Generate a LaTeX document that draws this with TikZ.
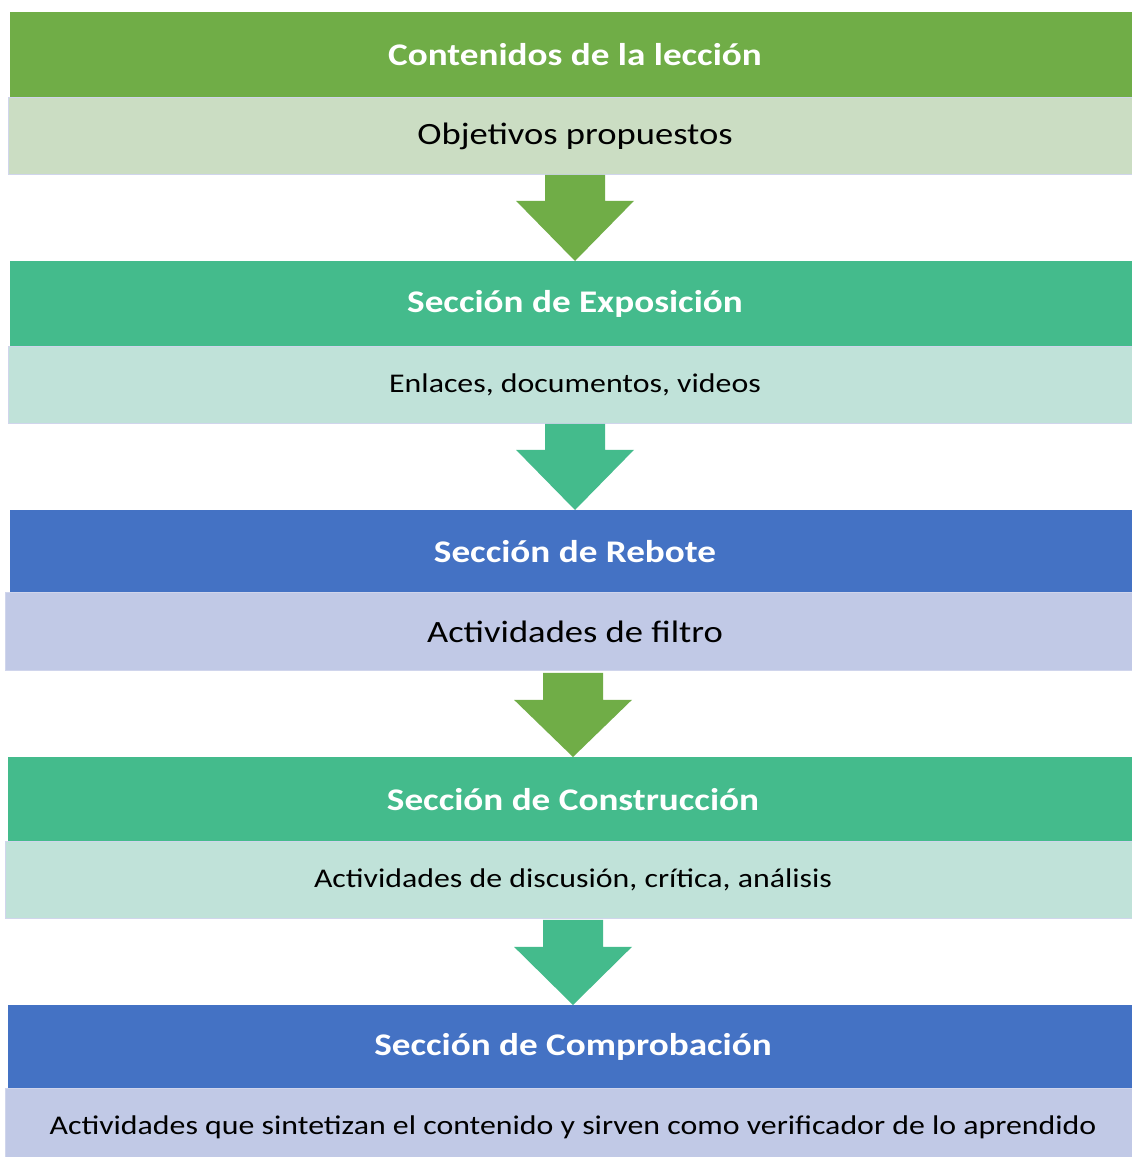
\documentclass[tikz,border=0pt]{standalone}
\usepackage{fontspec}
\setmainfont{Carlito}[FakeStretch=1.18]
\usetikzlibrary{calc}
\definecolor{Gdark}{RGB}{112,173,71}
\definecolor{Tdark}{RGB}{68,187,140}
\definecolor{Bdark}{RGB}{68,114,196}
\definecolor{Glight}{RGB}{203,221,195}
\definecolor{Tlight}{RGB}{192,226,217}
\definecolor{Blight}{RGB}{193,201,230}
\definecolor{Sline}{RGB}{208,213,236}

\begin{document}
\begin{tikzpicture}[x=1pt,y=-1pt,
  head/.style={rectangle,anchor=north,inner sep=0pt,minimum width=1130pt,minimum height=85pt,
    text=white,font=\bfseries\fontsize{31.5}{36}\selectfont},
  sub/.style={rectangle,anchor=north,inner sep=0pt,minimum width=1134pt,minimum height=77pt,
    draw=Sline,line width=0.8pt,text=black},
  big/.style={font=\fontsize{31}{36}\selectfont},
  small/.style={font=\fontsize{27}{32}\selectfont}]
\path[use as bounding box,fill=white] (0,0) rectangle (1132,1157);
% bloque 1
\node[head,fill=Gdark] (lecc) at (575,12) {Contenidos de la lección};
\node[sub,big,fill=Glight] (obj) at (575,97) {Objetivos propuestos};
% bloque 2
\node[head,fill=Tdark] (expo) at (575,261) {Sección de Exposición};
\node[sub,small,fill=Tlight] (enl) at (575,346) {Enlaces, documentos, videos};
% bloque 3
\node[head,fill=Bdark,minimum height=82pt] (reb) at (575,510) {Sección de Rebote};
\node[sub,big,fill=Blight,minimum width=1140pt,minimum height=78pt] (filt) at (575,592) {Actividades de filtro};
% bloque 4
\node[head,fill=Tdark,minimum height=84pt] (cons) at (573,757) {Sección de Construcción};
\node[sub,small,fill=Tlight,minimum width=1136pt] (disc) at (573,841) {Actividades de discusión, crítica, análisis};
% bloque 5
\node[head,fill=Bdark,minimum height=83pt] (comp) at (573,1005) {Sección de Comprobación};
\node[sub,small,fill=Blight,minimum width=1136pt] (sint) at (573,1088) {Actividades que sintetizan el contenido y sirven como verificador de lo aprendido};
% flechas
\fill[Gdark] ($(obj.south)+(-30,0)$) -- ($(obj.south)+(30,0)$) -- ($(obj.south)+(30,26)$) -- ($(obj.south)+(59,26)$)
  -- (expo.north) -- ($(obj.south)+(-59,26)$) -- ($(obj.south)+(-30,26)$) -- cycle;
\fill[Tdark] ($(enl.south)+(-30,0)$) -- ($(enl.south)+(30,0)$) -- ($(enl.south)+(30,26)$) -- ($(enl.south)+(59,26)$)
  -- (reb.north) -- ($(enl.south)+(-59,26)$) -- ($(enl.south)+(-30,26)$) -- cycle;
\fill[Gdark] ($(disc.north |- filt.south)+(-30,2)$) -- ($(disc.north |- filt.south)+(30,2)$) -- ($(disc.north |- filt.south)+(30,29)$)
  -- ($(disc.north |- filt.south)+(59,29)$) -- (cons.north) -- ($(disc.north |- filt.south)+(-59,29)$)
  -- ($(disc.north |- filt.south)+(-30,29)$) -- cycle;
\fill[Tdark] ($(disc.south)+(-30,1)$) -- ($(disc.south)+(30,1)$) -- ($(disc.south)+(30,28)$) -- ($(disc.south)+(59,28)$)
  -- (comp.north) -- ($(disc.south)+(-59,28)$) -- ($(disc.south)+(-30,28)$) -- cycle;
\end{tikzpicture}
\end{document}
